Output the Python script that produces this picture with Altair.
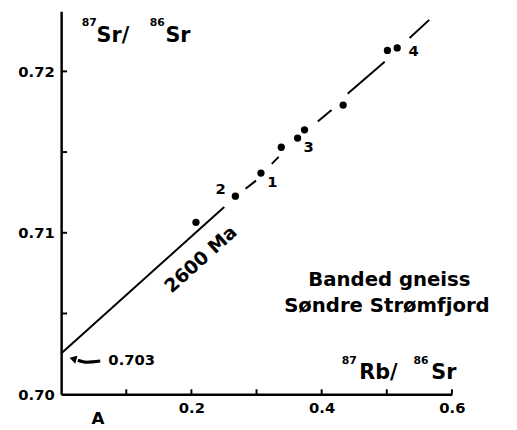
import altair as alt
import pandas as pd

# ---- data ----
rb_sr = [0.207, 0.2675, 0.3068, 0.338, 0.363, 0.3737, 0.433, 0.501, 0.516]
sr_sr = [0.71065, 0.71227, 0.7137, 0.7153, 0.71587, 0.71638, 0.71791, 0.7213, 0.72145]

# isochron drawn as broken pieces (start / end of each piece)
seg_x1 = [0.0, 0.2831, 0.3234, 0.3940, 0.4398, 0.5350]
seg_y1 = [0.70252, 0.71273, 0.71427, 0.71689, 0.71862, 0.72207]
seg_x2 = [0.2504, 0.2992, 0.3340, 0.4152, 0.4968, 0.5652]
seg_y2 = [0.71160, 0.71323, 0.71470, 0.71760, 0.72059, 0.72319]

x_ticks = [0.1, 0.2, 0.3, 0.4, 0.5, 0.6]
x_labels = [0.2, 0.4, 0.6]
y_ticks = [0.705, 0.71, 0.715, 0.72]
y_labels = [0.70, 0.71, 0.72]

pt_label = ["1", "2", "3", "4"]
pt_label_x = [0.3245, 0.2448, 0.3798, 0.5411]
pt_label_y = [0.71313, 0.71268, 0.71530, 0.72126]

# axis-title pieces (superscript masses and element symbols)
sup_text = ["87", "86", "87", "86"]
sup_x = [0.0317, 0.1360, 0.4307, 0.5410]
sup_y = [0.72279, 0.72279, 0.70185, 0.70185]
sym_text = ["Sr/", "Sr", "Rb/", "Sr"]
sym_x = [0.0544, 0.1602, 0.4579, 0.5683]
sym_y = [0.72183, 0.72183, 0.70093, 0.70093]

title_text = ["Banded gneiss", "Søndre Strømfjord"]
title_x = [0.5040, 0.5002]
title_y = [0.70671, 0.70510]

age_text = ["2600 Ma"]
age_x = [0.2146]
age_y = [0.70835]

init_text = ["0.703"]
init_x = [0.0725]
init_y = [0.702134]

panel_text = ["A"]
panel_x = [0.0567]
panel_y = [0.69817]

arrow_x = [0.0600, 0.0393, 0.0257]
arrow_y = [0.702055, 0.701982, 0.702104]
arrow_head_x = [0.0181]
arrow_head_y = [0.702195]

W, H = 397, 389
XDOM = [0.0, 0.6]
YDOM = [0.70, 0.72372]
FONT = "DejaVu Sans"

xs = alt.Scale(domain=XDOM, nice=False, zero=False)
ys = alt.Scale(domain=YDOM, nice=False, zero=False)

pts = pd.DataFrame({"x": rb_sr, "y": sr_sr})
segs = pd.DataFrame({"x": seg_x1, "y": seg_y1, "x2": seg_x2, "y2": seg_y2})

x_axis = alt.Axis(values=x_labels, format=".1f", title=None, grid=False, ticks=False,
                  tickSize=0, domainWidth=2.5, domainColor="black", labelPadding=7,
                  labelFlush=False, labelOverlap=False,
                  labelFont=FONT, labelFontWeight="bold", labelFontSize=15,
                  labelColor="black")
y_axis = alt.Axis(values=y_labels, format=".2f", title=None, grid=False, ticks=False,
                  tickSize=0, domainWidth=2.5, domainColor="black", labelPadding=7,
                  labelFlush=False, labelOverlap=False,
                  labelFont=FONT, labelFontWeight="bold", labelFontSize=15,
                  labelColor="black")

base_pts = alt.Chart(pts).mark_circle(size=55, color="black", opacity=1).encode(
    x=alt.X("x:Q", scale=xs, axis=x_axis),
    y=alt.Y("y:Q", scale=ys, axis=y_axis),
)

line = alt.Chart(segs).mark_rule(color="black", strokeWidth=2).encode(
    x=alt.X("x:Q", scale=xs), y=alt.Y("y:Q", scale=ys), x2="x2:Q", y2="y2:Q"
)

xt = alt.Chart(pd.DataFrame({"t": x_ticks})).mark_rule(color="black", strokeWidth=2).encode(
    x=alt.X("t:Q", scale=xs), y=alt.value(H), y2=alt.value(H - 5)
)
yt = alt.Chart(pd.DataFrame({"t": y_ticks})).mark_rule(color="black", strokeWidth=2).encode(
    y=alt.Y("t:Q", scale=ys), x=alt.value(0), x2=alt.value(6)
)


def text_layer(texts, xv, yv, size, align="center", baseline="alphabetic", angle=0):
    df = pd.DataFrame({"t": texts, "x": xv, "y": yv})
    kw = dict(font=FONT, fontWeight="bold", fontSize=size, color="black",
              align=align, baseline=baseline)
    if angle:
        kw["angle"] = angle
    return alt.Chart(df).mark_text(**kw).encode(
        x=alt.X("x:Q", scale=xs), y=alt.Y("y:Q", scale=ys), text="t:N"
    )


labels = text_layer(pt_label, pt_label_x, pt_label_y, 15, baseline="middle")
sups = text_layer(sup_text, sup_x, sup_y, 11, align="left")
syms = text_layer(sym_text, sym_x, sym_y, 21, align="left")
titles = text_layer(title_text, title_x, title_y, 20)
age = text_layer(age_text, age_x, age_y, 19, baseline="middle", angle=318)
init = text_layer(init_text, init_x, init_y, 15, align="left", baseline="middle")
panel = text_layer(panel_text, panel_x, panel_y, 17)

arrow = alt.Chart(pd.DataFrame({"x": arrow_x, "y": arrow_y, "o": [0, 1, 2]})).mark_line(
    color="black", strokeWidth=3, interpolate="monotone"
).encode(x=alt.X("x:Q", scale=xs), y=alt.Y("y:Q", scale=ys), order="o:O")
head = alt.Chart(pd.DataFrame({"x": arrow_head_x, "y": arrow_head_y})).mark_point(
    shape="triangle-left", filled=True, size=70, color="black", opacity=1, angle=15
).encode(x=alt.X("x:Q", scale=xs), y=alt.Y("y:Q", scale=ys))

chart = alt.layer(
    line, xt, yt, base_pts, labels, sups, syms, titles, age, init, panel, arrow, head
).properties(
    width=W, height=H,
    autosize=alt.AutoSizeParams(type="none"),
    padding={"left": 54, "top": 0, "right": 58, "bottom": 33},
    background="white",
).configure_view(stroke=None)

chart.save("out.html", embed_options={"renderer": "svg", "actions": False})
